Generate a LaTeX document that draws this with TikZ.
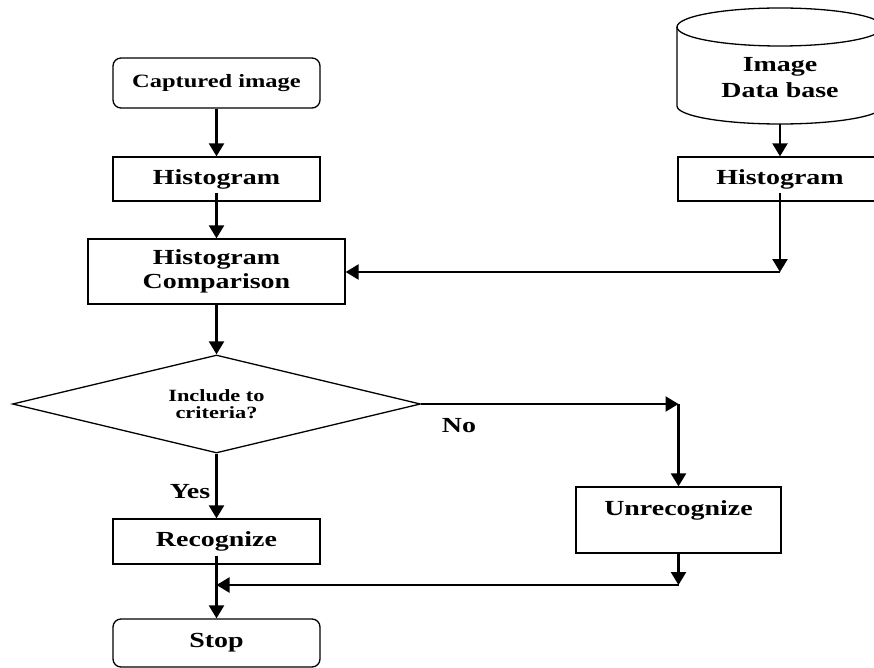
\documentclass[tikz,border=0pt]{standalone}
\usepackage{fontspec}
\setmainfont{Liberation Serif}[FakeStretch=1.3]
\usetikzlibrary{arrows.meta,shapes.geometric}
\tikzset{
  box/.style={draw, line width=1.3pt, inner sep=0pt, align=center,
    font=\bfseries\fontsize{21.5}{24}\selectfont},
  rbox/.style={box, rounded corners=8pt},
  arr/.style={line width=2.4pt, -{Triangle[width=15pt,length=13pt]}},
  lbl/.style={font=\bfseries\fontsize{21.5}{24}\selectfont, inner sep=0pt},
  cyl/.style={line width=1.3pt},
}
\begin{document}
\begin{tikzpicture}[x=1pt,y=-1pt]
\clip (0,0) rectangle (874,668);
\fill[white] (0,0) rectangle (874,668);

% left column
\node[rbox, minimum width=207pt, minimum height=50pt,
      font=\bfseries\fontsize{18.8}{20}\selectfont] (cap) at (216.5,83) {Captured image};
\node[box, minimum width=207pt, minimum height=44pt] (h1) at (216.5,179) {Histogram};
\node[box, minimum width=257pt, minimum height=65pt] (comp) at (216.5,271.5) {Histogram\\Comparison};
\node[draw, diamond, aspect=4.16, minimum width=408pt, minimum height=98pt, inner sep=0pt,
      line width=1.3pt, align=center,
      font=\bfseries\fontsize{17.2}{16.5}\selectfont] (dec) at (216.5,404) {Include to\\criteria?};
\node[box, minimum width=207pt, minimum height=45pt] (rec) at (216.5,541.5) {Recognize};
\node[rbox, minimum width=207pt, minimum height=48pt] (stop) at (216.5,643) {Stop};

% right column
\draw[cyl] (780,27) ellipse [x radius=103pt, y radius=19pt];
\draw[cyl] (677,27) -- (677,106) arc[start angle=180, end angle=360, x radius=103pt, y radius=18pt] -- (883,27);
\node[align=center, inner sep=0pt, minimum width=206pt, minimum height=92pt,
      font=\bfseries\fontsize{21.5}{26}\selectfont] (db) at (780,78) {Image\\Data base};
\node[box, minimum width=204pt, minimum height=44pt] (h2) at (780,179) {Histogram};
\node[box, minimum width=205pt, minimum height=66pt] (unrec) at (678.5,520) {Unrecognize\\\mbox{}};

% connectors
\draw[arr] (cap.south) -- (h1.north);
\draw[arr] ([yshift=9pt]h1.south) -- (comp.north);
\draw[arr] (comp.south) -- (dec.north);
\draw[arr] (db.south) -- (h2.north);
\coordinate (c1) at (780,272);
\draw[arr] ([yshift=9pt]h2.south) -- (c1);
\draw[arr] (c1) -- (comp.east |- c1);

\coordinate (nc) at (unrec.north |- dec.east);
\draw[arr] (dec.east) -- (nc);
\draw[arr] (nc) -- (unrec.north);
\draw[arr] (dec.south) -- (rec.north);

\coordinate (m1) at (678.5,585);
\draw[arr] (unrec.south) -- (m1);
\coordinate (m2) at (rec.south |- m1);
\draw[arr] (m1) -- (m2);
\draw[arr] ([yshift=9pt]rec.south) -- (stop.north);

% labels
\node[lbl] (yes) at (190,492) {Yes};
\node[lbl] (no) at (459,426) {No};
\end{tikzpicture}
\end{document}
